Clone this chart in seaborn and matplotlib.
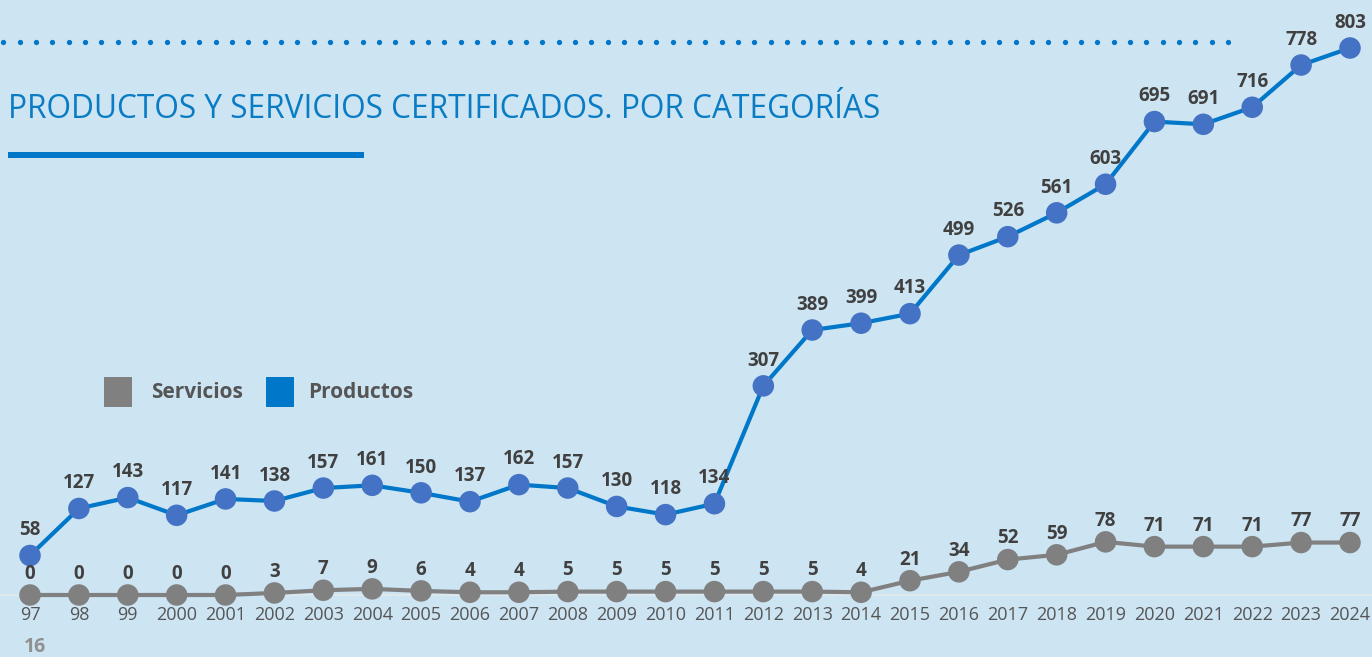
import numpy as np
import pandas as pd
import matplotlib
matplotlib.use('Agg')
import matplotlib.pyplot as plt
from matplotlib.patches import Rectangle
import seaborn as sns

# datos
years = ['97', '98', '99'] + [str(y) for y in range(2000, 2025)]
productos = [58, 127, 143, 117, 141, 138, 157, 161, 150, 137, 162, 157, 130, 118,
             134, 307, 389, 399, 413, 499, 526, 561, 603, 695, 691, 716, 778, 803]
servicios = [0, 0, 0, 0, 0, 3, 7, 9, 6, 4, 4, 5, 5, 5,
             5, 5, 5, 4, 21, 34, 52, 59, 78, 71, 71, 71, 77, 77]

df = pd.DataFrame({'idx': np.arange(len(years)), 'year': years,
                   'Productos': productos, 'Servicios': servicios})

BG = '#cde4f2'
BLUE = '#0077c8'
MARK = '#4472c4'
GREY = '#808080'
TXT = '#404040'

sns.set_style('white')
plt.rcParams['font.family'] = ['Open Sans', 'DejaVu Sans']

W, H = 1372, 657
fig = plt.figure(figsize=(W / 100, H / 100), dpi=100, facecolor=BG)

# ejes: año 97 en px 30, 2024 en px 1350, cero en px 595, 803 en px 48
step = (1350 - 30) / 27
ppu = (595 - 48) / 803
ax = fig.add_axes([0, (H - 595) / H, 1, 595 / H])
ax.set_facecolor('none')
ax.set_xlim(-30 / step, 27 + (W - 1350) / step)
ax.set_ylim(0, 595 / ppu)

sns.lineplot(data=df, x='idx', y='Servicios', color=GREY, lw=3, ax=ax, clip_on=False, zorder=3)
sns.scatterplot(data=df, x='idx', y='Servicios', color=GREY, s=240, edgecolor='none',
                ax=ax, clip_on=False, zorder=4)
sns.lineplot(data=df, x='idx', y='Productos', color=BLUE, lw=3, ax=ax, clip_on=False, zorder=3)
sns.scatterplot(data=df, x='idx', y='Productos', color=MARK, s=240, edgecolor='none',
                ax=ax, clip_on=False, zorder=4)

for i in range(len(years)):
    ax.annotate(str(productos[i]), (i, productos[i]), xytext=(0, 11), textcoords='offset points',
                ha='center', va='bottom', fontsize=13.5, fontweight='bold', color=TXT, zorder=5)
    ax.annotate(str(servicios[i]), (i, servicios[i]), xytext=(0, 8), textcoords='offset points',
                ha='center', va='bottom', fontsize=13.5, fontweight='bold', color=TXT, zorder=5)

for s in ['top', 'right', 'left']:
    ax.spines[s].set_visible(False)
ax.spines['bottom'].set_color('#dde8ee')
ax.spines['bottom'].set_linewidth(1.5)
ax.spines['bottom'].set_zorder(1)
ax.set_xticks(df['idx'])
ax.set_xticklabels(years, fontsize=13, color='#555555')
ax.tick_params(axis='x', length=0, pad=8)
ax.set_yticks([])
ax.set_xlabel('')
ax.set_ylabel('')

# cabecera
dots_x = 3.3 + 16.33 * np.arange(76)
fig.add_artist(plt.Line2D(dots_x / W, np.full_like(dots_x, 1 - 42 / H), ls='none',
                          marker='o', ms=3.8, color=BLUE, mec='none'))
fig.text(8 / W, 1 - 109 / H, 'PRODUCTOS Y SERVICIOS CERTIFICADOS. POR CATEGORÍAS',
         fontsize=22.8, color='#0a7cc4', ha='left', va='center')
fig.add_artist(Rectangle((8 / W, 1 - 158 / H), 356 / W, 6 / H, color=BLUE, lw=0,
                         transform=fig.transFigure))

# leyenda
fig.add_artist(Rectangle((104 / W, 1 - 407 / H), 28 / W, 30 / H, color=GREY, lw=0,
                         transform=fig.transFigure))
fig.text(151 / W, 1 - 393 / H, 'Servicios', fontsize=15, fontweight='bold',
         color='#555555', va='center')
fig.add_artist(Rectangle((266 / W, 1 - 407 / H), 28 / W, 30 / H, color=BLUE, lw=0,
                         transform=fig.transFigure))
fig.text(308 / W, 1 - 393 / H, 'Productos', fontsize=15, fontweight='bold',
         color='#555555', va='center')

fig.text(24 / W, 1 - 647 / H, '16', fontsize=14, fontweight='bold', color='#909090',
         va='center')

fig.savefig('out.png', dpi=100, facecolor=BG)
